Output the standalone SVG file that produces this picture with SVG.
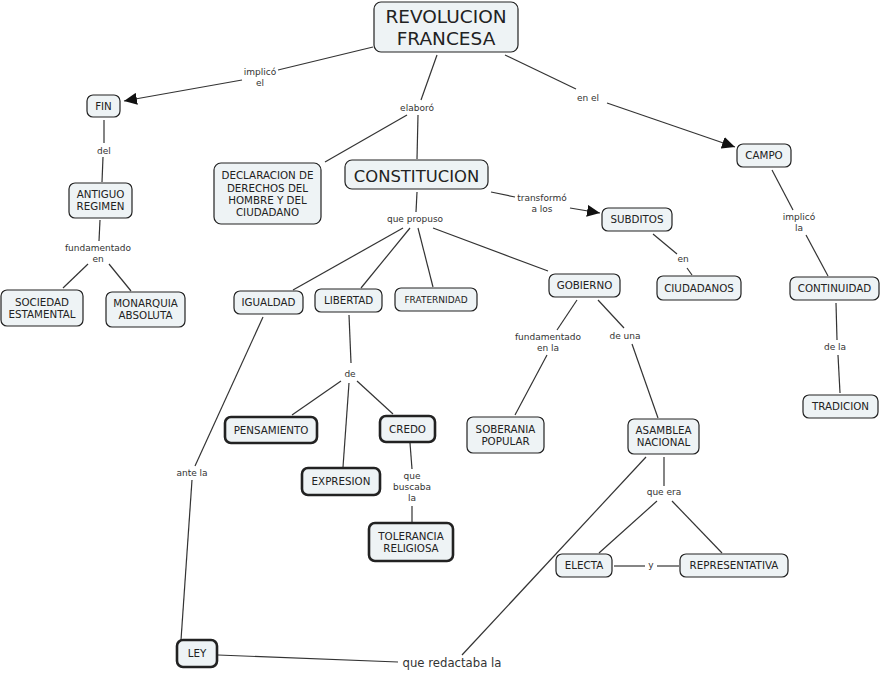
<svg xmlns="http://www.w3.org/2000/svg" width="882" height="673" viewBox="0 0 882 673">
<style>
.n rect{fill:#eef3f5;stroke:#222;stroke-width:1.2}
.t rect{stroke-width:2.6}
.n text{font-family:"DejaVu Sans",Verdana,sans-serif;font-size:10.3px;fill:#222;text-anchor:middle}
.l{font-family:"DejaVu Sans",Verdana,sans-serif;font-size:9px;fill:#333;text-anchor:middle}
#links line{stroke:#333;stroke-width:1.2;fill:none}
</style>
<defs>
<marker id="ah" markerUnits="userSpaceOnUse" markerWidth="14" markerHeight="12" refX="13" refY="6" orient="auto">
<path d="M0,0 L13,6 L0,12 z" fill="#111"/>
</marker>
</defs>
<rect width="882" height="673" fill="#fff"/>
<g id="links">
<line x1="373" y1="47" x2="278" y2="70"/>
<line x1="242" y1="80" x2="124" y2="101" marker-end="url(#ah)"/>
<line x1="437" y1="55" x2="421" y2="100"/>
<line x1="407" y1="115" x2="325" y2="162"/>
<line x1="418" y1="115" x2="417" y2="159"/>
<line x1="505" y1="55" x2="576" y2="89"/>
<line x1="607" y1="103" x2="735" y2="147" marker-end="url(#ah)"/>
<line x1="104" y1="120" x2="104" y2="143"/>
<line x1="103" y1="157" x2="102" y2="182"/>
<line x1="100" y1="220" x2="99" y2="241"/>
<line x1="88" y1="264" x2="63" y2="288"/>
<line x1="109" y1="264" x2="131" y2="291"/>
<line x1="417" y1="192" x2="416" y2="212"/>
<line x1="491" y1="192" x2="515" y2="197"/>
<line x1="570" y1="208" x2="600" y2="213" marker-end="url(#ah)"/>
<line x1="403" y1="228" x2="293" y2="290"/>
<line x1="410" y1="228" x2="361" y2="288"/>
<line x1="418" y1="228" x2="433" y2="287"/>
<line x1="433" y1="228" x2="548" y2="271"/>
<line x1="653" y1="234" x2="677" y2="254"/>
<line x1="687" y1="268" x2="692" y2="275"/>
<line x1="772" y1="170" x2="793" y2="210"/>
<line x1="806" y1="235" x2="828" y2="276"/>
<line x1="836" y1="303" x2="837" y2="340"/>
<line x1="838" y1="355" x2="840" y2="393"/>
<line x1="577" y1="300" x2="557" y2="330"/>
<line x1="547" y1="355" x2="515" y2="415"/>
<line x1="598" y1="300" x2="624" y2="328"/>
<line x1="632" y1="344" x2="658" y2="418"/>
<line x1="349" y1="315" x2="351" y2="363"/>
<line x1="341" y1="381" x2="292" y2="415"/>
<line x1="349" y1="383" x2="343" y2="467"/>
<line x1="357" y1="381" x2="393" y2="414"/>
<line x1="410" y1="443" x2="412" y2="469"/>
<line x1="412" y1="506" x2="412" y2="522"/>
<line x1="263" y1="317" x2="195" y2="466"/>
<line x1="192" y1="480" x2="181" y2="640"/>
<line x1="218" y1="655" x2="398" y2="662"/>
<line x1="646" y1="457" x2="462" y2="655"/>
<line x1="664" y1="457" x2="664" y2="486"/>
<line x1="657" y1="501" x2="599" y2="553"/>
<line x1="672" y1="501" x2="722" y2="553"/>
<line x1="614" y1="566" x2="645" y2="566"/>
<line x1="657" y1="566" x2="679" y2="566"/>
<text class="l" x="260" y="75">implicó</text>
<text class="l" x="260" y="86">el</text>
<text class="l" x="417" y="111">elaboró</text>
<text class="l" x="588" y="101">en el</text>
<text class="l" x="104" y="154">del</text>
<text class="l" x="98" y="251">fundamentado</text>
<text class="l" x="98" y="262">en</text>
<text class="l" x="415" y="222">que propuso</text>
<text class="l" x="542" y="201">transformó</text>
<text class="l" x="542" y="212">a los</text>
<text class="l" x="683" y="262">en</text>
<text class="l" x="799" y="220">implicó</text>
<text class="l" x="799" y="231">la</text>
<text class="l" x="835" y="350">de la</text>
<text class="l" x="548" y="340">fundamentado</text>
<text class="l" x="548" y="351">en la</text>
<text class="l" x="625" y="339">de una</text>
<text class="l" x="350" y="377">de</text>
<text class="l" x="412" y="479">que</text>
<text class="l" x="412" y="490">buscaba</text>
<text class="l" x="412" y="501">la</text>
<text class="l" x="192" y="476">ante la</text>
<text class="l" x="664" y="495">que era</text>
<text class="l" x="651" y="568">y</text>
<text class="l" x="452" y="667" style="font-size:11.7px">que redactaba la</text>
</g>
<g id="revolucion" class="n"><rect x="374" y="2" width="144" height="50" rx="7"/><text x="446" y="23" style="font-size:18.5px">REVOLUCION</text><text x="446" y="45" style="font-size:18.5px">FRANCESA</text></g>
<g id="fin" class="n"><rect x="87" y="95" width="33" height="22" rx="6"/><text x="103.5" y="110">FIN</text></g>
<g id="antiguo" class="n"><rect x="69" y="183" width="63" height="35" rx="6"/><text x="100.5" y="198">ANTIGUO</text><text x="100.5" y="210">REGIMEN</text></g>
<g id="sociedad" class="n"><rect x="1" y="290" width="82" height="36" rx="6"/><text x="42" y="306">SOCIEDAD</text><text x="42" y="318">ESTAMENTAL</text></g>
<g id="monarquia" class="n"><rect x="106" y="292" width="79" height="35" rx="6"/><text x="145.5" y="307">MONARQUIA</text><text x="145.5" y="319">ABSOLUTA</text></g>
<g id="declaracion" class="n"><rect x="214" y="163" width="107" height="61" rx="7"/><text x="267.5" y="179">DECLARACION DE</text><text x="267.5" y="191.5">DERECHOS DEL</text><text x="267.5" y="204">HOMBRE Y DEL</text><text x="267.5" y="216">CIUDADANO</text></g>
<g id="constitucion" class="n"><rect x="345" y="160" width="143" height="29" rx="7"/><text x="416.5" y="182" style="font-size:16.4px">CONSTITUCION</text></g>
<g id="subditos" class="n"><rect x="602" y="208" width="70" height="23" rx="6"/><text x="637" y="223">SUBDITOS</text></g>
<g id="campo" class="n"><rect x="737" y="144" width="54" height="23" rx="6"/><text x="764" y="159">CAMPO</text></g>
<g id="igualdad" class="n"><rect x="234" y="291" width="69" height="23" rx="6"/><text x="268.5" y="306">IGUALDAD</text></g>
<g id="libertad" class="n"><rect x="315" y="289" width="67" height="23" rx="6"/><text x="348.5" y="304">LIBERTAD</text></g>
<g id="fraternidad" class="n"><rect x="395" y="288" width="82" height="23" rx="6"/><text x="436" y="303" style="font-size:9px">FRATERNIDAD</text></g>
<g id="gobierno" class="n"><rect x="549" y="274" width="71" height="23" rx="6"/><text x="584.5" y="289">GOBIERNO</text></g>
<g id="ciudadanos" class="n"><rect x="657" y="276" width="84" height="24" rx="6"/><text x="699" y="292">CIUDADANOS</text></g>
<g id="continuidad" class="n"><rect x="790" y="277" width="89" height="23" rx="6"/><text x="834.5" y="292">CONTINUIDAD</text></g>
<g id="tradicion" class="n"><rect x="803" y="395" width="75" height="23" rx="6"/><text x="840.5" y="410">TRADICION</text></g>
<g id="soberania" class="n"><rect x="467" y="417" width="77" height="36" rx="6"/><text x="505.5" y="433">SOBERANIA</text><text x="505.5" y="445">POPULAR</text></g>
<g id="asamblea" class="n"><rect x="628" y="419" width="71" height="35" rx="6"/><text x="663.5" y="434">ASAMBLEA</text><text x="663.5" y="446">NACIONAL</text></g>
<g id="pensamiento" class="n t"><rect x="225" y="417" width="92" height="26" rx="6"/><text x="271" y="433.5">PENSAMIENTO</text></g>
<g id="credo" class="n t"><rect x="380" y="416" width="55" height="26" rx="6"/><text x="407.5" y="432.5">CREDO</text></g>
<g id="expresion" class="n t"><rect x="302" y="468" width="78" height="27" rx="6"/><text x="341" y="485">EXPRESION</text></g>
<g id="tolerancia" class="n t"><rect x="369" y="523" width="84" height="38" rx="6"/><text x="411" y="540">TOLERANCIA</text><text x="411" y="552">RELIGIOSA</text></g>
<g id="ley" class="n t"><rect x="177" y="640" width="40" height="27" rx="6"/><text x="197" y="657">LEY</text></g>
<g id="electa" class="n"><rect x="556" y="554" width="56" height="23" rx="6"/><text x="584" y="569">ELECTA</text></g>
<g id="representativa" class="n"><rect x="680" y="554" width="108" height="23" rx="6"/><text x="734" y="569">REPRESENTATIVA</text></g>
</svg>
